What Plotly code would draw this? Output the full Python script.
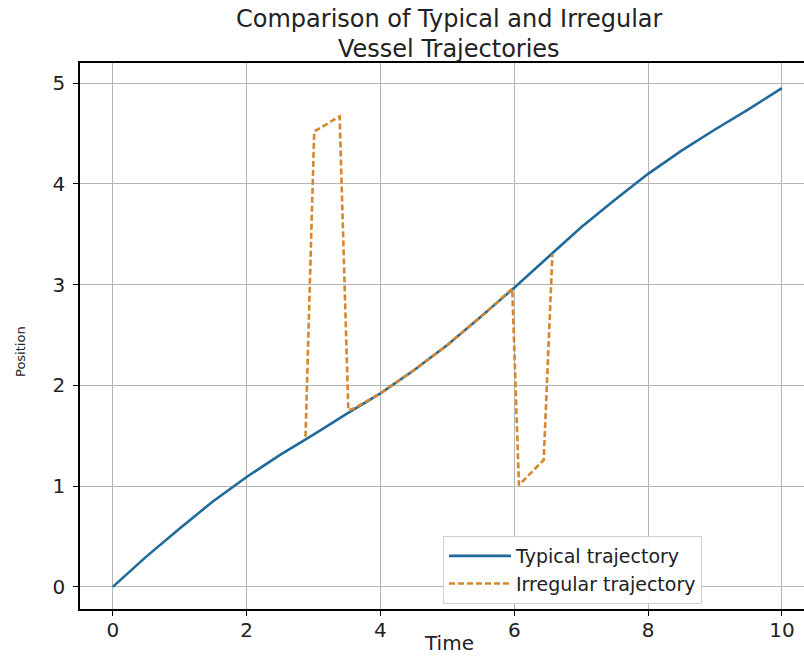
import plotly.graph_objects as go

# Typical trajectory
typical_time = [0.0, 0.5, 1.0, 1.5, 2.0, 2.5, 3.0, 3.5, 4.0, 4.5, 5.0, 5.5,
                6.0, 6.5, 7.0, 7.5, 8.0, 8.5, 9.0, 9.5, 10.0]
typical_pos = [0.00, 0.30, 0.58, 0.85, 1.09, 1.31, 1.51, 1.72, 1.92, 2.15, 2.40, 2.68,
               2.97, 3.27, 3.57, 3.84, 4.10, 4.33, 4.54, 4.74, 4.95]

# Irregular trajectory
irregular_time = [2.88, 3.01, 3.39, 3.52, 3.6, 4.0, 4.5, 5.0, 5.5, 5.97, 6.07, 6.44, 6.57]
irregular_pos = [1.49, 4.52, 4.67, 1.75, 1.77, 1.92, 2.15, 2.40, 2.68, 2.96, 1.01, 1.26, 3.30]

x_ticks = [0, 2, 4, 6, 8, 10]
y_ticks = [0, 1, 2, 3, 4, 5]

title_lines = ["Comparison of Typical and Irregular", "Vessel Trajectories"]
x_label = "Time"
y_label = "Position"

FONT = "DejaVu Sans"
TXT = "#222222"

fig = go.Figure()
fig.add_trace(go.Scatter(
    x=typical_time, y=typical_pos, mode="lines", name="Typical trajectory",
    line=dict(color="#1f6a9a", width=2.6),
))
fig.add_trace(go.Scatter(
    x=irregular_time, y=irregular_pos, mode="lines", name="Irregular trajectory",
    line=dict(color="#d6862c", width=2.6, dash="6px,3px"),
))

axis_common = dict(
    showline=True, linecolor="black", linewidth=1.5, mirror=True,
    showgrid=True, gridcolor="#b5b5b5", gridwidth=1,
    ticks="outside", ticklen=5, tickcolor="black", tickwidth=1.2,
    zeroline=False, automargin=False,
    tickfont=dict(family=FONT, size=20, color=TXT),
)

fig.update_layout(
    width=804, height=659,
    paper_bgcolor="white", plot_bgcolor="white",
    margin=dict(l=80, r=0, t=63, b=50),
    xaxis=dict(range=[-0.49, 10.33], tickvals=x_ticks, ticklabelstandoff=-3, **axis_common),
    yaxis=dict(range=[-0.22, 5.2], tickvals=y_ticks, ticklabelstandoff=4, **axis_common),
    legend=dict(x=(443 - 80) / 724, y=(609 - 604) / 546, xanchor="left", yanchor="bottom",
                bgcolor="rgba(255,255,255,0.9)", bordercolor="#d0d0d0", borderwidth=1,
                font=dict(family=FONT, size=19, color=TXT),
                tracegroupgap=0, itemwidth=62),
    showlegend=True,
    annotations=[
        dict(text=title_lines[0], xref="paper", yref="paper",
             x=(449 - 80) / 724, y=1 + 29 / 546, xanchor="center", yanchor="bottom",
             borderpad=0, showarrow=False, font=dict(family=FONT, size=24, color=TXT)),
        dict(text=title_lines[1], xref="paper", yref="paper",
             x=(449 - 80) / 724, y=1 - 1 / 546, xanchor="center", yanchor="bottom",
             borderpad=0, showarrow=False, font=dict(family=FONT, size=24, color=TXT)),
        dict(text=x_label, xref="paper", yref="paper",
             x=(449 - 80) / 724, y=-(643 - 609) / 546, xanchor="center", yanchor="middle",
             showarrow=False, font=dict(family=FONT, size=20, color=TXT)),
        dict(text=y_label, xref="paper", yref="paper",
             x=-(80 - 20) / 724, y=(609 - 352) / 546, xanchor="center", yanchor="middle",
             textangle=-90, showarrow=False, font=dict(family=FONT, size=13, color=TXT)),
    ],
)

fig.write_html("out.html", config={"displayModeBar": False},
               post_script="document.body.style.margin='0';")
